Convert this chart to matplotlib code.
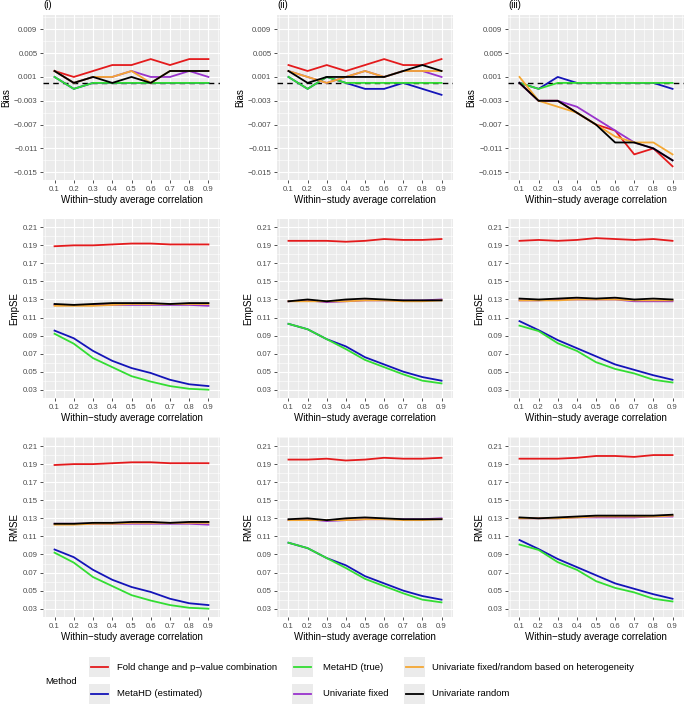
import numpy as np
import matplotlib
matplotlib.use("Agg")
import matplotlib.pyplot as plt
from matplotlib.ticker import FixedLocator, FuncFormatter
from matplotlib.patches import Rectangle
from matplotlib.lines import Line2D

plt.rcParams['font.family'] = ['Liberation Sans', 'DejaVu Sans']

corr = [0.1, 0.2, 0.3, 0.4, 0.5, 0.6, 0.7, 0.8, 0.9]

methods = ["Fold change and p\u2212value combination", "MetaHD (estimated)", "MetaHD (true)",
           "Univariate fixed", "Univariate fixed/random based on heterogeneity", "Univariate random"]
colors = ["#E41A1C", "#1414B8", "#33DD33", "#9933CC", "#F4A733", "black"]
panel_tags = ["(i)", "(ii)", "(iii)"]
metrics = ["Bias", "EmpSE", "RMSE"]

# Bias, scenario (i)/(ii)/(iii); order of methods as above
bias_i = [
    [0.002, 0.001, 0.002, 0.003, 0.003, 0.004, 0.003, 0.004, 0.004],
    [0.001, -0.001, 0.000, 0.000, 0.000, 0.000, 0.000, 0.000, 0.000],
    [0.001, -0.001, 0.000, 0.000, 0.000, 0.000, 0.000, 0.000, 0.000],
    [0.002, 0.000, 0.001, 0.001, 0.002, 0.001, 0.001, 0.002, 0.001],
    [0.002, 0.000, 0.001, 0.001, 0.002, 0.000, 0.002, 0.002, 0.002],
    [0.002, 0.000, 0.001, 0.000, 0.001, 0.000, 0.002, 0.002, 0.002],
]
bias_ii = [
    [0.003, 0.002, 0.003, 0.002, 0.003, 0.004, 0.003, 0.003, 0.004],
    [0.001, -0.001, 0.001, 0.000, -0.001, -0.001, 0.000, -0.001, -0.002],
    [0.001, -0.001, 0.001, 0.000, 0.000, 0.000, 0.000, 0.000, 0.000],
    [0.002, 0.001, 0.000, 0.001, 0.002, 0.001, 0.002, 0.002, 0.001],
    [0.002, 0.001, 0.000, 0.001, 0.002, 0.001, 0.002, 0.002, 0.002],
    [0.002, 0.000, 0.001, 0.001, 0.001, 0.001, 0.002, 0.003, 0.002],
]
bias_iii = [
    [0.000, -0.003, -0.003, -0.005, -0.007, -0.008, -0.012, -0.011, -0.014],
    [0.000, -0.001, 0.001, 0.000, 0.000, 0.000, 0.000, 0.000, -0.001],
    [0.000, -0.001, 0.000, 0.000, 0.000, 0.000, 0.000, 0.000, 0.000],
    [0.000, -0.003, -0.003, -0.004, -0.006, -0.008, -0.010, -0.011, -0.013],
    [0.001, -0.003, -0.004, -0.005, -0.007, -0.009, -0.010, -0.010, -0.012],
    [0.000, -0.003, -0.003, -0.005, -0.007, -0.010, -0.010, -0.011, -0.013],
]

empse_i = [
    [0.189, 0.190, 0.190, 0.191, 0.192, 0.192, 0.191, 0.191, 0.191],
    [0.0955, 0.087, 0.073, 0.062, 0.054, 0.0485, 0.041, 0.036, 0.034],
    [0.092, 0.081, 0.065, 0.055, 0.045, 0.039, 0.034, 0.031, 0.030],
    [0.124, 0.124, 0.124, 0.124, 0.124, 0.124, 0.124, 0.124, 0.123],
    [0.123, 0.123, 0.123, 0.124, 0.125, 0.125, 0.125, 0.125, 0.125],
    [0.125, 0.124, 0.125, 0.126, 0.126, 0.126, 0.125, 0.126, 0.126],
]
empse_ii = [
    [0.195, 0.195, 0.195, 0.194, 0.195, 0.197, 0.196, 0.196, 0.197],
    [0.103, 0.097, 0.086, 0.078, 0.066, 0.058, 0.050, 0.044, 0.040],
    [0.103, 0.097, 0.086, 0.075, 0.063, 0.055, 0.047, 0.040, 0.037],
    [0.128, 0.129, 0.127, 0.128, 0.129, 0.129, 0.129, 0.129, 0.130],
    [0.128, 0.128, 0.128, 0.128, 0.129, 0.129, 0.128, 0.128, 0.129],
    [0.128, 0.130, 0.128, 0.130, 0.131, 0.130, 0.129, 0.129, 0.129],
]
empse_iii = [
    [0.195, 0.196, 0.195, 0.196, 0.198, 0.197, 0.196, 0.197, 0.195],
    [0.106, 0.096, 0.085, 0.076, 0.067, 0.058, 0.052, 0.046, 0.041],
    [0.101, 0.095, 0.0815, 0.073, 0.0605, 0.053, 0.048, 0.041, 0.038],
    [0.129, 0.129, 0.130, 0.130, 0.130, 0.130, 0.128, 0.128, 0.128],
    [0.129, 0.129, 0.129, 0.130, 0.130, 0.130, 0.129, 0.129, 0.129],
    [0.131, 0.130, 0.131, 0.132, 0.131, 0.132, 0.130, 0.131, 0.130],
]

rmse_i = [
    [0.189, 0.190, 0.190, 0.191, 0.192, 0.192, 0.191, 0.191, 0.191],
    [0.0955, 0.087, 0.073, 0.062, 0.054, 0.0485, 0.041, 0.036, 0.034],
    [0.092, 0.081, 0.065, 0.055, 0.045, 0.039, 0.034, 0.031, 0.030],
    [0.124, 0.124, 0.124, 0.124, 0.124, 0.124, 0.124, 0.124, 0.123],
    [0.123, 0.123, 0.124, 0.124, 0.125, 0.125, 0.125, 0.125, 0.125],
    [0.124, 0.124, 0.125, 0.125, 0.126, 0.126, 0.125, 0.126, 0.126],
]
rmse_ii = [
    [0.195, 0.195, 0.196, 0.194, 0.195, 0.197, 0.196, 0.196, 0.197],
    [0.103, 0.097, 0.086, 0.078, 0.066, 0.058, 0.050, 0.044, 0.040],
    [0.103, 0.097, 0.086, 0.075, 0.063, 0.055, 0.047, 0.040, 0.037],
    [0.128, 0.129, 0.127, 0.128, 0.129, 0.129, 0.129, 0.129, 0.130],
    [0.128, 0.128, 0.128, 0.128, 0.129, 0.129, 0.128, 0.128, 0.129],
    [0.129, 0.130, 0.128, 0.130, 0.131, 0.130, 0.129, 0.129, 0.129],
]
rmse_iii = [
    [0.196, 0.196, 0.196, 0.197, 0.199, 0.199, 0.198, 0.200, 0.200],
    [0.106, 0.096, 0.085, 0.076, 0.067, 0.058, 0.052, 0.046, 0.041],
    [0.101, 0.095, 0.0815, 0.073, 0.0605, 0.053, 0.048, 0.041, 0.038],
    [0.130, 0.130, 0.130, 0.131, 0.131, 0.131, 0.131, 0.132, 0.132],
    [0.130, 0.130, 0.130, 0.131, 0.132, 0.132, 0.132, 0.132, 0.133],
    [0.131, 0.130, 0.131, 0.132, 0.133, 0.133, 0.133, 0.133, 0.134],
]

grid_data = [
    [bias_i, bias_ii, bias_iii],
    [empse_i, empse_ii, empse_iii],
    [rmse_i, rmse_ii, rmse_iii],
]

W, H = 686, 707
fig = plt.figure(figsize=(W / 100, H / 100), dpi=100)

cols_px = [(43, 220), (277, 453), (508, 684)]
rows_px = [(15, 180), (219, 398), (437, 617)]
ylims = [(-0.0163, 0.0114), (0.0208, 0.2192), (0.0208, 0.2200)]
yticks = [[0.009, 0.005, 0.001, -0.003, -0.007, -0.011, -0.015],
          [0.21, 0.19, 0.17, 0.15, 0.13, 0.11, 0.09, 0.07, 0.05, 0.03],
          [0.21, 0.19, 0.17, 0.15, 0.13, 0.11, 0.09, 0.07, 0.05, 0.03]]
yfmt = ["{:.3f}", "{:.2f}", "{:.2f}"]

tick_fs = 5.6
title_fs = 7.0
leg_fs = 6.8

for r in range(3):
    for c in range(3):
        l, rr = cols_px[c]
        t, b = rows_px[r]
        ax = fig.add_axes([l / W, 1 - b / H, (rr - l) / W, (b - t) / H])
        ax.set_facecolor("#EBEBEB")
        for s in ax.spines.values():
            s.set_visible(False)
        ax.set_xlim(0.04, 0.96)
        ax.set_ylim(*ylims[r])
        ax.xaxis.set_major_locator(FixedLocator(corr))
        ax.xaxis.set_minor_locator(FixedLocator([x + 0.05 for x in [0.0] + corr]))
        yt = yticks[r]
        step = abs(yt[0] - yt[1])
        ax.yaxis.set_major_locator(FixedLocator(yt))
        ax.yaxis.set_minor_locator(FixedLocator([v + step / 2 for v in yt] + [yt[-1] - step / 2]))
        fmt = yfmt[r]
        ax.yaxis.set_major_formatter(FuncFormatter(lambda v, p, f=fmt: f.format(v).replace("-", "\u2212")))
        ax.xaxis.set_major_formatter(FuncFormatter(lambda v, p: "{:.1f}".format(v)))
        ax.grid(which="major", color="white", lw=0.8)
        ax.grid(which="minor", color="white", lw=0.4)
        ax.set_axisbelow(True)
        ax.tick_params(which="major", length=2.5, width=0.6, color="#333333",
                       labelsize=tick_fs, labelcolor="#4D4D4D", pad=1.5)
        ax.tick_params(which="minor", length=0)
        data = grid_data[r][c]
        if r == 0:
            ax.axhline(0, color="black", ls=(0, (4, 3)), lw=1.0, zorder=1.5)
        for vals, col in zip(data, colors):
            ax.plot(corr, vals, color=col, lw=1.3, solid_joinstyle="round", zorder=2)
        ax.set_xlabel("Within\u2212study average correlation", fontsize=title_fs, labelpad=2)
        ax.set_ylabel(metrics[r], fontsize=title_fs, labelpad=2)
        if r == 0:
            ax.text(0.0, 1.03, panel_tags[c], transform=ax.transAxes,
                    fontsize=title_fs, ha="left", va="bottom")

# legend drawn by hand in figure pixels
def fx(x):
    return x / W


def fy(y):
    return 1 - y / H


fig.text(fx(45), fy(681), "Method", fontsize=leg_fs, ha="left", va="center")
key_x = [89, 292, 404]
text_x = [117, 323, 432]
row_y = [667, 694]
for i, (name, col) in enumerate(zip(methods, colors)):
    cc, rr = i // 2, i % 2
    kx, ky = key_x[cc], row_y[rr]
    fig.add_artist(Rectangle((fx(kx), fy(ky + 10)), 21 / W, 20 / H,
                             transform=fig.transFigure, facecolor="#EBEBEB", edgecolor="none"))
    fig.add_artist(Line2D([fx(kx + 2), fx(kx + 19)], [fy(ky), fy(ky)],
                          transform=fig.transFigure, color=col, lw=1.3))
    fig.text(fx(text_x[cc]), fy(ky), name, fontsize=leg_fs, ha="left", va="center")

fig.savefig("out.png", dpi=100)
